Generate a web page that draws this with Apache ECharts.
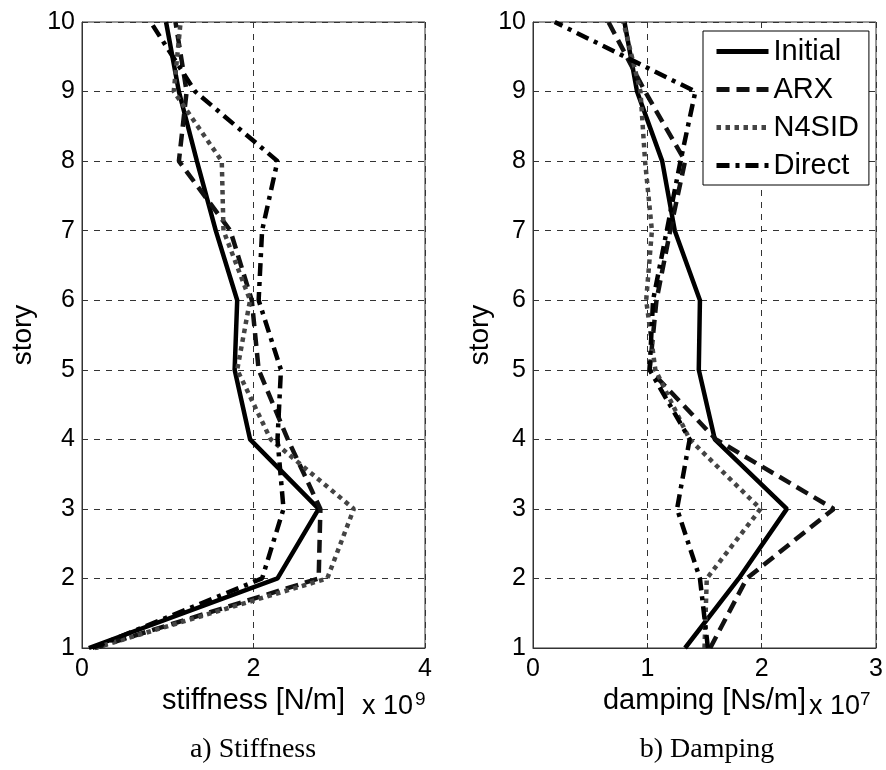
<!DOCTYPE html>
<html>
<head>
<meta charset="utf-8">
<script src="https://cdn.jsdelivr.net/npm/echarts@6/dist/echarts.min.js"></script>
<style>
  html, body { margin: 0; padding: 0; background: #fff; }
  #chart { width: 886px; height: 770px; }
</style>
</head>
<body>
<div id="chart"></div>
<script>
// story levels (y axis)
var stories = [1, 2, 3, 4, 5, 6, 7, 8, 9, 10];
var seriesNames = ['Initial', 'ARX', 'N4SID', 'Direct'];

// stiffness, x 10^9 N/m, story 1..10
var stiffInitial = [0.08, 2.28, 2.76, 1.96, 1.78, 1.81, 1.56, 1.34, 1.13, 0.98];
var stiffARX     = [0.15, 2.76, 2.78, 2.40, 2.06, 1.98, 1.73, 1.13, 1.22, 1.09];
var stiffN4SID   = [0.15, 2.86, 3.17, 2.20, 1.81, 1.96, 1.65, 1.63, 1.07, 1.15];
var stiffDirect  = [0.12, 2.10, 2.35, 2.28, 2.32, 2.06, 2.10, 2.28, 1.32, 0.80];

// damping, x 10^7 Ns/m, story 1..10
var dampInitial = [1.33, 1.80, 2.22, 1.59, 1.45, 1.46, 1.24, 1.13, 0.91, 0.80];
var dampARX     = [1.55, 1.87, 2.63, 1.60, 1.02, 1.08, 1.20, 1.33, 0.98, 0.66];
var dampN4SID   = [1.50, 1.52, 1.99, 1.37, 1.07, 0.99, 1.04, 0.98, 0.94, 0.79];
var dampDirect  = [1.53, 1.46, 1.26, 1.37, 1.02, 1.05, 1.17, 1.29, 1.42, 0.19];

var FONT = 'Liberation Sans';
var styles = {
  'Initial': { color: '#000', width: 4.5, type: 'solid' },
  'ARX':     { color: '#111', width: 4.5, type: [13, 7] },
  'N4SID':   { color: '#444', width: 4.5, type: [4.5, 4.5] },
  'Direct':  { color: '#000', width: 4.5, type: [13, 6, 4, 6] }
};

function pairs(vals) {
  return stories.map(function(s, i) { return [vals[i], s]; });
}

function mkSeries(name, vals, idx) {
  var st = styles[name];
  return {
    name: name, type: 'line', xAxisIndex: idx, yAxisIndex: idx,
    data: pairs(vals), symbol: 'none', silent: true,
    lineStyle: { color: st.color, width: st.width, type: st.type },
    itemStyle: { color: st.color }
  };
}

function xAx(idx, max, interval, name) {
  return {
    gridIndex: idx, type: 'value', min: 0, max: max, interval: interval,
    name: name, nameLocation: 'middle', nameGap: 31,
    nameTextStyle: { fontFamily: FONT, fontSize: 29, color: '#000' },
    axisLine: { show: true, lineStyle: { color: '#333', width: 1 } },
    axisTick: { show: true, inside: true, length: 5, lineStyle: { color: '#333' } },
    axisLabel: { fontFamily: FONT, fontSize: 25, color: '#000', margin: 9 },
    splitLine: { show: true, lineStyle: { color: '#333', width: 1, type: [6, 6] } }
  };
}

function yAx(idx, gap) {
  return {
    gridIndex: idx, type: 'value', min: 1, max: 10, interval: 1,
    name: 'story', nameLocation: 'middle', nameGap: gap, nameRotate: 90,
    nameTextStyle: { fontFamily: FONT, fontSize: 28, color: '#000' },
    axisLine: { show: true, lineStyle: { color: '#333', width: 1 } },
    axisTick: { show: true, inside: true, length: 5, lineStyle: { color: '#333' } },
    axisLabel: { fontFamily: FONT, fontSize: 25, color: '#000', margin: 7 },
    splitLine: { show: true, lineStyle: { color: '#333', width: 1, type: [6, 6] } }
  };
}

var chart = echarts.init(document.getElementById('chart'));
chart.setOption({
  animation: false,
  backgroundColor: '#fff',
  grid: [
    { left: 82, top: 22, width: 343, height: 626, show: true, borderColor: '#333', borderWidth: 1 },
    { left: 533, top: 22, width: 343, height: 626, show: true, borderColor: '#333', borderWidth: 1 }
  ],
  xAxis: [xAx(0, 4, 2, 'stiffness [N/m]'), xAx(1, 3, 1, 'damping [Ns/m]')],
  yAxis: [yAx(0, 45), yAx(1, 39)],
  legend: {
    data: seriesNames, orient: 'vertical', left: 703, top: 31,
    itemWidth: 52, itemHeight: 14, itemGap: 9,
    padding: [6, 10, 5, 11],
    backgroundColor: '#fff', borderColor: '#000', borderWidth: 1,
    itemStyle: { opacity: 0 },
    lineStyle: { width: 5 },
    textStyle: { fontFamily: FONT, fontSize: 29, color: '#000' },
    selectedMode: false
  },
  series: [
    mkSeries('Initial', stiffInitial, 0),
    mkSeries('ARX', stiffARX, 0),
    mkSeries('N4SID', stiffN4SID, 0),
    mkSeries('Direct', stiffDirect, 0),
    mkSeries('Initial', dampInitial, 1),
    mkSeries('ARX', dampARX, 1),
    mkSeries('N4SID', dampN4SID, 1),
    mkSeries('Direct', dampDirect, 1)
  ],
  graphic: [
    { type: 'text', left: 362, top: 693, style: { text: 'x 10', fontFamily: FONT, fontSize: 27, fill: '#000' } },
    { type: 'text', left: 415, top: 690, style: { text: '9', fontFamily: FONT, fontSize: 19, fill: '#000' } },
    { type: 'text', left: 809, top: 693, style: { text: 'x 10', fontFamily: FONT, fontSize: 27, fill: '#000' } },
    { type: 'text', left: 860, top: 690, style: { text: '7', fontFamily: FONT, fontSize: 19, fill: '#000' } },
    { type: 'text', x: 253, y: 750, style: { text: 'a) Stiffness', fontFamily: 'Liberation Serif', fontSize: 28, fill: '#000', align: 'center', verticalAlign: 'middle' } },
    { type: 'text', x: 707, y: 750, style: { text: 'b) Damping', fontFamily: 'Liberation Serif', fontSize: 28, fill: '#000', align: 'center', verticalAlign: 'middle' } }
  ]
});
</script>
</body>
</html>
